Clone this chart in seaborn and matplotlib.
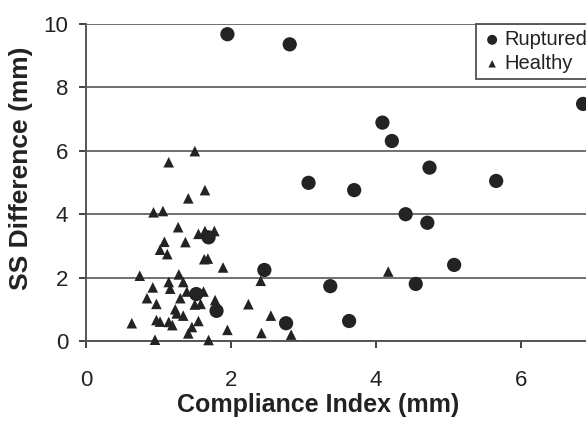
import numpy as np
import pandas as pd
import matplotlib
matplotlib.use('Agg')
import matplotlib.pyplot as plt
import seaborn as sns

# Ruptured (circles)
ruptured_x = [1.95, 2.81, 3.07, 4.09, 4.22, 3.70, 4.74, 5.66, 6.86, 4.41,
              4.71, 5.08, 3.37, 4.55, 3.63, 1.69, 2.46, 1.52, 1.80, 2.76]
ruptured_y = [9.68, 9.36, 4.99, 6.89, 6.31, 4.76, 5.47, 5.05, 7.48, 4.00,
              3.73, 2.40, 1.73, 1.80, 0.63, 3.27, 2.24, 1.48, 0.95, 0.56]

# Healthy (triangles)
healthy_x = [1.50, 1.14, 1.64, 1.41, 0.93, 1.06, 1.27, 1.55, 1.64, 1.77,
             1.08, 1.37, 1.02, 1.12, 1.63, 1.68, 1.89, 0.74, 1.28, 2.41,
             1.14, 1.34, 0.92, 1.16, 1.39, 1.62, 0.84, 1.30, 1.78, 0.97,
             1.50, 1.58, 2.24, 1.23, 1.25, 1.34, 2.55, 0.97, 1.02, 1.14,
             1.19, 0.63, 1.55, 1.46, 1.41, 1.95, 2.42, 2.83, 0.95, 1.69,
             4.17]
healthy_y = [5.99, 5.64, 4.76, 4.50, 4.06, 4.10, 3.59, 3.38, 3.47, 3.47,
             3.13, 3.12, 2.88, 2.74, 2.58, 2.60, 2.32, 2.06, 2.10, 1.90,
             1.86, 1.86, 1.69, 1.65, 1.56, 1.56, 1.35, 1.35, 1.29, 1.17,
             1.15, 1.17, 1.16, 1.00, 0.87, 0.80, 0.80, 0.66, 0.61, 0.60,
             0.50, 0.56, 0.63, 0.44, 0.24, 0.35, 0.25, 0.20, 0.04, 0.03,
             2.19]

x_ticks = [0, 2, 4, 6]
y_ticks = [0, 2, 4, 6, 8, 10]

rup = pd.DataFrame({'ci': ruptured_x, 'ss': ruptured_y})
hea = pd.DataFrame({'ci': healthy_x, 'ss': healthy_y})

sns.set_style('white')
plt.rcParams['font.family'] = ['Liberation Sans', 'DejaVu Sans']

fig = plt.figure(figsize = (5.86, 4.22), dpi = 100)
ax = fig.add_axes([0.147, 0.192, 0.853, 0.751])

ax.set_axisbelow(True)
ax.grid(axis = 'y', color = '#707070', linewidth = 1.4)
ax.grid(axis = 'x', visible = False)

sns.scatterplot(data = rup, x = 'ci', y = 'ss', marker = 'o', s = 105, color = '#232323',
                edgecolor = 'none', label = 'Ruptured', ax = ax, clip_on = False, zorder = 3)
sns.scatterplot(data = hea, x = 'ci', y = 'ss', marker = '^', s = 58, color = '#232323',
                edgecolor = 'none', label = 'Healthy', ax = ax, clip_on = False, zorder = 3)

ax.set_xlim(0, 6.9)
ax.set_ylim(0, 10)
ax.set_xticks(x_ticks)
ax.set_yticks(y_ticks)
ax.tick_params(axis = 'both', labelsize = 16, colors = '#222222', length = 5, width = 1.2,
               direction = 'out', bottom = True, left = True, pad = 8)
ax.tick_params(axis = 'x', pad = 16)

for side in ['top', 'right']:
    ax.spines[side].set_visible(False)
for side in ['left', 'bottom']:
    ax.spines[side].set_color('#555555')
    ax.spines[side].set_linewidth(1.4)

ax.set_xlabel('Compliance Index (mm)', fontsize = 18, fontweight = 'bold', color = '#222222', labelpad = 0)
ax.set_ylabel('SS Difference (mm)', fontsize = 19, fontweight = 'bold', color = '#222222', labelpad = 5)
ax.xaxis.set_label_coords(0.464, -0.165)
ax.yaxis.set_label_coords(-0.106, 0.545)

leg = ax.legend(loc = 'upper left', bbox_to_anchor = (0.78, 1.0), fontsize = 14.5, frameon = True,
                fancybox = False, edgecolor = '#333333', handletextpad = 0.1, borderpad = 0.3,
                labelspacing = 0.25, handlelength = 1.0, markerscale = 0.7, borderaxespad = 0)
leg.get_frame().set_linewidth(1.4)
for t in leg.get_texts():
    t.set_color('#222222')

fig.savefig('out.png', dpi = 100)
